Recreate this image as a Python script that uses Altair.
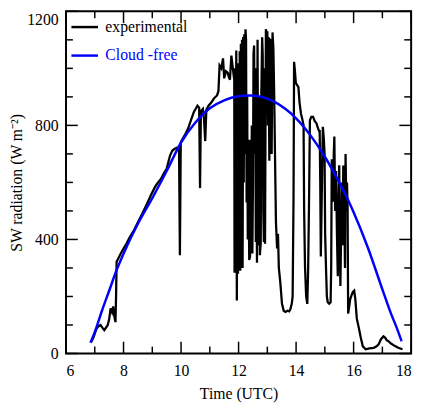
import altair as alt
import pandas as pd

# ---------------- data ----------------
exp_time = [6.87, 6.95, 7.05, 7.12, 7.2, 7.27, 7.33, 7.4, 7.45, 7.5, 7.55, 7.6, 7.64, 7.68, 7.72, 7.74,
            7.76, 7.8, 7.9, 8.0, 8.1, 8.2, 8.35, 8.5, 8.65, 8.8, 8.95, 9.1, 9.2, 9.3, 9.4, 9.5, 9.55,
            9.62, 9.7, 9.78, 9.86, 9.93, 9.96, 9.99, 10.05, 10.15, 10.25, 10.35, 10.45, 10.52, 10.57,
            10.63, 10.66, 10.69, 10.76, 10.8, 10.84, 10.88, 10.95, 11.05, 11.15, 11.25, 11.3, 11.34,
            11.4, 11.46, 11.5, 11.56, 11.62, 11.66, 11.7, 11.75, 11.8,
            11.85, 11.86, 11.88, 11.9, 11.92, 11.94, 11.96, 11.98, 12.0, 12.02, 12.04, 12.06, 12.08,
            12.1, 12.12, 12.14, 12.16, 12.18, 12.2, 12.22, 12.24, 12.26, 12.28, 12.3, 12.32, 12.34,
            12.37, 12.4, 12.42, 12.44, 12.46, 12.48, 12.5, 12.52, 12.54, 12.56, 12.58, 12.6, 12.62,
            12.64, 12.66, 12.68, 12.7, 12.72, 12.74, 12.77, 12.79, 12.82, 12.84, 12.86, 12.88, 12.9,
            12.92, 12.95, 12.98, 13.0, 13.02, 13.04, 13.07, 13.1, 13.13, 13.15, 13.18, 13.21, 13.24,
            13.27, 13.3, 13.34, 13.37, 13.4, 13.45,
            13.51, 13.57, 13.63, 13.7, 13.76, 13.8,
            13.85, 13.88, 13.91, 13.93, 13.96, 13.99, 14.04, 14.08, 14.12, 14.17, 14.22, 14.26, 14.28,
            14.31, 14.35, 14.39, 14.42, 14.45, 14.48, 14.53, 14.59, 14.65, 14.71, 14.76, 14.8, 14.82,
            14.84, 14.86, 14.9, 14.93, 14.96, 14.99, 15.01, 15.04, 15.07, 15.1, 15.15, 15.2, 15.22,
            15.24, 15.27, 15.3, 15.31, 15.33, 15.36, 15.39, 15.42, 15.45, 15.48, 15.5, 15.52, 15.54,
            15.57, 15.6, 15.62, 15.64, 15.67, 15.7, 15.72, 15.75, 15.77, 15.79, 15.81, 15.84, 15.88,
            15.93, 15.97, 16.02, 16.06, 16.11, 16.18, 16.25, 16.32, 16.42, 16.55, 16.7, 16.8, 16.87,
            16.95, 17.04, 17.1, 17.15, 17.21, 17.3, 17.44, 17.55, 17.7]
exp_value = [40, 55, 85, 95, 100, 90, 82, 92, 100, 120, 158, 145, 165, 130, 110, 200,
             322, 330, 350, 368, 385, 405, 430, 460, 490, 522, 555, 585, 600, 612, 632, 648, 668,
             695, 712, 718, 722, 720, 345, 740, 752, 770, 790, 820, 848, 860, 869,
             862, 580, 850, 858, 820, 745, 855, 868, 880, 895, 905, 920, 1010,
             1000, 1035, 965, 990, 985, 970, 960, 1045, 1000,
             960, 283, 1000, 300, 1063, 186, 900, 280, 1018, 300, 1060, 290, 1086,
             320, 1100, 300, 1110, 600, 1120, 700, 1137, 1100, 530, 900, 400, 750,
             328, 340, 750, 500, 800, 351, 600, 1050, 1080, 700, 1000, 391, 800,
             318, 1100, 600, 380, 900, 345, 386, 900, 1109, 1046, 500, 391, 1000,
             385, 1137, 1120, 1130, 800, 1110, 676, 1100, 1097, 700, 1126, 1069, 900,
             670, 459, 368, 420, 300, 250,
             174, 150, 146, 150, 148, 155,
             175, 200, 533, 1023, 990, 949, 940, 935, 880, 841, 820, 800, 500,
             305, 200, 174, 300, 533, 818, 830, 830, 815, 807, 790, 780, 784,
             600, 340, 600, 795, 760, 700, 419, 300, 200, 180, 175, 180, 300,
             681, 540, 533, 700, 761, 500, 640, 420, 271, 550, 660, 400, 237,
             450, 600, 380, 659, 560, 300, 700, 500, 600, 522, 140, 160, 190,
             205, 215, 220, 190, 123, 90, 55, 25, 15, 18, 20, 25, 32,
             50, 60, 55, 47, 43, 35, 26, 20, 15]

clear_time = [6.85, 7.0, 7.25, 7.5, 7.75, 8.0, 8.5, 9.0, 9.5, 10.0, 10.5, 11.0, 11.5, 12.0, 12.4,
              12.8, 13.2, 13.6, 14.0, 14.5, 15.0, 15.5, 15.8, 16.0, 16.5, 17.0, 17.3, 17.5, 17.67]
clear_value = [38, 75, 150, 220, 290, 350, 455, 545, 640, 740, 810, 860, 888, 902, 905,
               900, 885, 860, 825, 765, 690, 600, 540, 495, 370, 225, 140, 90, 43]

series_names = ["experimental", "Cloud -free"]
series_colors = ["black", "#0000ff"]

x_label_values = [6, 8, 10, 12, 14, 16, 18]
x_minor_values = [7, 9, 11, 13, 15, 17]
y_label_values = [0, 400, 800, 1200]
y_minor_values = [100, 200, 300, 500, 600, 700, 900, 1000, 1100]

# ---------------- layout ----------------
W, H = 351, 348
FONT = "Liberation Serif"
MAJ, MIN = 12, 7

df = pd.concat([
    pd.DataFrame({"time": exp_time, "value": exp_value, "series": series_names[0]}),
    pd.DataFrame({"time": clear_time, "value": clear_value, "series": series_names[1]}),
], ignore_index=True)

xscale = alt.Scale(domain=[6, 18], nice=False, zero=False)
yscale = alt.Scale(domain=[0, 1200], nice=False, zero=False)

x_axis = alt.Axis(values=x_label_values, title="Time (UTC)", format="d",
                  ticks=False, tickSize=0, domain=False, grid=False,
                  labelPadding=9, titlePadding=8,
                  labelFont=FONT, titleFont=FONT, labelFontSize=16, titleFontSize=16,
                  titleFontWeight="normal", labelColor="black", titleColor="black")
y_axis = alt.Axis(values=y_label_values, title="SW radiation (W m\u207b\u00b2)", format="d",
                  ticks=False, tickSize=0, domain=False, grid=False,
                  labelPadding=8, titlePadding=2,
                  labelBaseline={"condition": {"test": "datum.value == 1200", "value": "top"},
                                 "value": "middle"},
                  labelFont=FONT, titleFont=FONT, labelFontSize=16, titleFontSize=16,
                  titleFontWeight="normal", labelColor="black", titleColor="black")

x_enc = alt.X("time:Q", scale=xscale, axis=x_axis)
y_enc = alt.Y("value:Q", scale=yscale, axis=y_axis)
color_enc = alt.Color("series:N",
                      scale=alt.Scale(domain=series_names, range=series_colors),
                      legend=alt.Legend(title=None, orient="none", legendX=4, legendY=1,
                                        symbolType="stroke", symbolSize=729, symbolStrokeWidth=2.5,
                                        labelFont=FONT, labelFontSize=16, labelOffset=6,
                                        labelColor={"expr": "datum.label == 'Cloud -free' ? '#0000ff' : 'black'"},
                                        rowPadding=6, padding=0))

base = alt.Chart(df).encode(x=x_enc, y=y_enc, color=color_enc)
exp_line = base.transform_filter(alt.datum.series == series_names[0]).mark_line(strokeWidth=2.3)
clear_line = base.transform_filter(alt.datum.series == series_names[1]).mark_line(
    strokeWidth=2.5, interpolate="monotone")

xmaj = pd.DataFrame({"time": x_label_values})
xmin = pd.DataFrame({"time": x_minor_values})
ymaj = pd.DataFrame({"value": y_label_values})
ymin = pd.DataFrame({"value": y_minor_values})

def xticks(data, length):
    bottom = alt.Chart(data).mark_rule(color="black", strokeWidth=1.5).encode(
        x=x_enc, y=alt.value(H), y2=alt.value(H - length))
    top = alt.Chart(data).mark_rule(color="black", strokeWidth=1.5).encode(
        x=x_enc, y=alt.value(0), y2=alt.value(length))
    return [bottom, top]

def yticks(data, length):
    left = alt.Chart(data).mark_rule(color="black", strokeWidth=1.5).encode(
        y=y_enc, x=alt.value(0), x2=alt.value(length))
    right = alt.Chart(data).mark_rule(color="black", strokeWidth=1.5).encode(
        y=y_enc, x=alt.value(W), x2=alt.value(W - length))
    return [left, right]

layers = [exp_line, clear_line] + xticks(xmaj, MAJ) + xticks(xmin, MIN) + yticks(ymaj, MAJ) + yticks(ymin, MIN)

chart = alt.layer(*layers).properties(
    width=W, height=H,
    autosize=alt.AutoSizeParams(type="none"),
    padding={"left": 59, "top": 0, "right": 8, "bottom": 50},
    background="white",
).configure_view(stroke="black", strokeWidth=2)

chart.save("out.html", embed_options={"renderer": "svg", "actions": False})
